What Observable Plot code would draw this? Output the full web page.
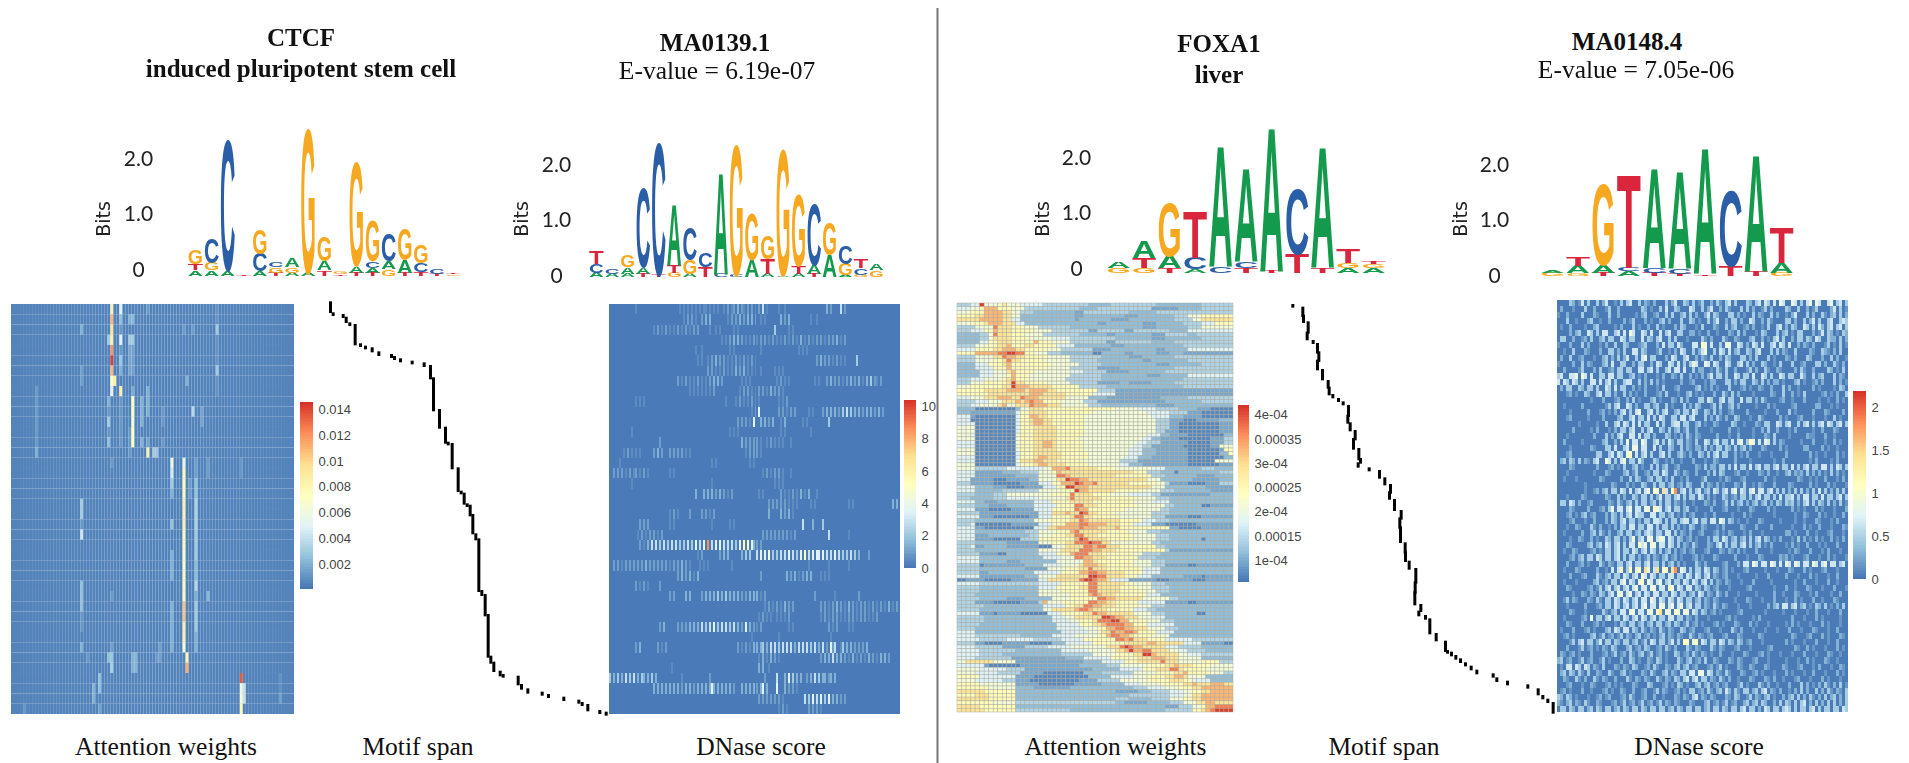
<!DOCTYPE html>
<html><head><meta charset="utf-8">
<script src="https://cdn.jsdelivr.net/npm/d3@7"></script>
<script src="https://cdn.jsdelivr.net/npm/@observablehq/plot@0.6"></script>
<style>
html,body{margin:0;background:#fff}
#stage{position:relative;width:1909px;height:763px;overflow:hidden;background:#fff}
#stage svg{position:absolute;overflow:visible;background:transparent;max-width:none}
.t{position:absolute;transform:translate(-50%,-50%);white-space:nowrap;font-family:"Liberation Serif",serif;font-size:25.5px;color:#111}
.b{font-weight:bold;font-size:25px}
</style></head><body><div id="stage"></div>
<script>
const RAMP = ["#4575b4","#91bfdb","#e0f3f8","#ffffbf","#fee090","#fc8d59","#d73027"];
const LETTER_COLOR = {A:"#149a4c",C:"#2a5ea6",G:"#f6a821",T:"#d9263c"};
const LETTER_W = {A:72.2,C:72.2,G:77.8,T:61.1};

// Sequence logos: each position lists [letter, bits] from the bottom of the stack up
const logoCTCF = [[["A",.1],["T",.12],["G",.26]],[["A",.1],["G",.14],["C",.44]],[["A",.1],["C",2.3]],[["T",.03]],
 [["A",.08],["C",.32],["G",.43]],[["T",.06],["G",.1],["C",.1]],[["A",.06],["G",.1],["A",.17]],[["A",.06],["G",2.55]],
 [["T",.1],["A",.16],["G",.44]],[["T",.03],["G",.04]],[["T",.06],["A",.12],["G",1.85]],[["T",.06],["A",.09],["C",.12],["G",.72]],
 [["G",.12],["A",.14],["C",.48]],[["T",.06],["A",.22],["G",.56]],[["T",.07],["C",.16],["G",.31]],[["T",.04],["C",.09]],[["G",.03],["T",.03]]];
const logoMA0139 = [[["A",.08],["C",.15],["T",.23]],[["A",.06],["C",.1]],[["A",.06],["A",.12],["G",.21]],[["T",.06],["A",.12],["C",1.4]],
 [["T",.04],["C",2.35]],[["G",.08],["T",.13],["A",1.08]],[["A",.06],["G",.25],["C",.57]],[["T",.18],["C",.24]],[["C",.06],["A",1.8]],
 [["C",.04],["G",2.3]],[["A",.3],["G",.84]],[["A",.06],["T",.27],["G",.42]],[["A",.03],["G",2.25]],[["A",.06],["T",.14],["G",1.27]],
 [["T",.06],["A",.15],["C",1.08]],[["A",.4],["G",.58]],[["A",.04],["G",.2],["C",.32]],[["G",.04],["C",.12],["T",.16]],[["G",.12],["A",.12]]];
const logoFOXA1 = [[["G",.09],["A",.11]],[["G",.09],["T",.18],["A",.29]],[["T",.08],["A",.22],["G",.95]],[["A",.06],["C",.2],["T",.82]],
 [["C",.12],["A",2.14]],[["T",.09],["C",.11],["A",1.66]],[["T",.04],["A",2.57]],[["T",.34],["C",1.16]],[["T",.1],["A",2.14]],
 [["A",.09],["G",.09],["T",.24]],[["A",.09],["G",.06],["T",.04]]];
const logoMA0148 = [[["G",.06],["A",.05]],[["G",.05],["A",.13],["T",.17]],[["T",.06],["A",.13],["G",1.42]],[["A",.08],["C",.07],["T",1.66]],
 [["T",.06],["C",.08],["A",1.78]],[["T",.04],["C",.09],["A",1.72]],[["T",.03],["A",2.23]],[["T",.18],["C",1.33]],[["T",.08],["A",2.08]],[["G",.06],["A",.18],["T",.63]]];

// Attention weights, CTCF: background and bright stripes [column, first row, last row, weight]
const ctcfBackground = 0.0005;
const ctcfStripes = [
[33,0,0,.008],[33,1,1,.011],[33,2,2,.0095],[33,3,3,.0085],[33,4,4,.012],[33,5,5,.0142],[33,6,6,.011],[33,7,7,.007],[34,7,7,.0085],[33,8,8,.005],
[32,3,3,.003],[32,9,9,.002],[32,11,11,.003],[32,13,13,.0025],[32,10,10,.0012],[32,12,12,.0012],
[36,0,0,.005],[36,1,1,.0025],[36,2,2,.0012],[36,3,3,.005],[36,4,4,.0012],[36,5,5,.0028],[36,6,6,.002],[36,8,8,.0085],[36,9,13,.0012],
[39,1,1,.002],[40,1,1,.0022],[39,3,3,.003],[40,3,3,.003],[39,4,6,.0016],[40,4,6,.0015],[40,8,8,.0018],
[40,9,13,.0073],[40,11,11,.0065],[39,12,14,.0012],[43,9,11,.002],[43,13,13,.002],[45,8,10,.002],[45,13,13,.0016],[45,14,14,.0085],[47,14,14,.003],[48,14,14,.0028],
[8,8,13,.0013],[8,14,14,.002],[23,2,2,.002],[23,6,7,.0014],[45,0,0,.0013],[68,0,8,.0011],[68,2,2,.003],[68,6,6,.003],[58,7,7,.002],[57,2,2,.0013],[60,2,2,.0014],
[60,10,10,.0036],[63,10,11,.0016],[50,10,11,.0012],[50,13,13,.0012],
[57,15,15,.0055],[57,16,28,.0078],[57,19,21,.0085],[57,24,25,.0072],[57,29,30,.0106],[57,31,32,.0085],[57,33,33,.0065],[58,34,34,.008],[58,35,35,.0112],
[53,15,15,.006],[53,16,16,.0045],[53,17,17,.003],[53,18,18,.002],[53,21,21,.0026],[53,24,26,.002],[53,29,33,.002],
[61,15,16,.0014],[61,17,18,.0026],[61,19,21,.0034],[61,22,24,.003],[61,25,26,.0024],[61,27,27,.0036],[61,28,28,.002],[61,29,31,.003],[61,32,33,.002],
[65,15,16,.0013],[65,28,28,.0022],[59,17,18,.0014],[23,19,20,.003],[23,21,21,.0012],[23,22,22,.0042],[23,27,29,.0025],[23,30,31,.0012],[23,33,33,.002],
[33,15,15,.0012],[33,28,28,.0012],[33,33,33,.0014],[49,33,34,.0014],[32,34,34,.0025],[33,34,34,.0028],[33,35,35,.0032],[40,34,35,.002],[41,34,35,.002],[25,34,34,.0012],[48,34,34,.0012],[76,15,16,.0012],
[76,36,36,.0135],[76,37,37,.006],[76,38,38,.0066],[76,39,39,.0078],[77,37,38,.004],[27,37,38,.002],[29,36,37,.0025],[29,39,39,.0015],[89,36,37,.001],[89,38,38,.0015],[4,39,39,.0012]];

// Attention weights, FOXA1: level per cell (×1e-4), one row per line, as level:run-length
const foxaLevels = [.7,.95,1.15,1.4,1.75,2.1,2.45,2.9,3.3,3.7,4.1];
const foxaRuns = [
"3:3 4:2 a:1 5:4 7:1 5:3 4:5 3:10 2:5 3:10 2:10 3:7","4:3 5:2 6:1 8:3 6:3 5:3 3:12 2:4 3:12 1:6 2:5 3:7","5:3 6:3 8:4 7:2 5:2 3:3 2:9 1:2 3:10 2:6 3:17",
"6:4 7:2 8:4 7:2 5:2 2:12 1:2 2:9 1:3 2:8 3:3 5:3 6:7","7:5 8:5 7:2 4:2 2:12 1:1 2:7 1:4 2:10 3:4 5:2 7:7","5:3 6:3 7:1 8:3 7:3 4:2 2:16 1:2 2:8 1:3 2:6 3:4 4:3 6:4",
"3:4 5:4 9:1 7:3 6:3 5:3 3:7 2:8 2:8 1:3 2:7 3:3 5:7","3:3 4:3 6:2 8:1 7:3 6:5 5:4 3:8 1:2 3:6 1:2 3:8 2:4 4:10","2:5 3:2 5:1 9:1 7:3 6:3 5:4 3:8 2:6 1:2 2:8 1:3 3:5 2:2 3:8",
"2:5 3:2 5:1 7:2 7:2 6:4 5:5 4:4 3:10 2:8 1:3 2:8 3:7","2:5 4:2 6:2 7:3 6:5 8:1 6:3 5:4 3:8 1:2 3:8 2:5 3:13","3:4 5:3 6:2 7:2 8:1 6:3 7:2 6:5 4:4 2:8 1:3 2:7 2:6 3:11",
"4:4 6:4 7:2 8:3 7:2 6:5 5:3 3:7 1:4 2:10 1:2 2:5 4:10","6:4 8:5 9:2 a:2 9:2 6:2 5:3 3:3 2:7 0:2 2:5 1:2 2:5 1:3 2:3 1:13","3:4 5:4 7:2 9:1 8:2 7:2 6:5 5:5 3:7 2:6 1:3 2:7 3:13",
"3:4 5:4 6:2 7:1 9:1 7:2 6:5 5:6 3:6 2:10 1:2 2:8 3:10","2:4 4:3 6:3 7:1 8:1 6:3 6:6 5:6 3:5 2:12 1:3 2:7 3:7","2:4 4:4 6:3 8:1 6:4 6:4 5:5 3:6 1:5 2:12 3:13",
"2:5 4:3 5:3 7:1 8:1 6:4 5:8 4:3 3:5 1:5 2:8 3:15","2:5 4:3 5:3 6:1 8:1 6:3 5:9 3:7 2:10 1:3 2:6 4:10","3:3 4:3 5:4 6:1 7:1 8:1 6:3 5:8 3:8 2:10 2:8 3:11",
"3:3 5:3 6:5 7:1 a:1 7:2 6:5 5:5 3:6 1:5 2:2 1:5 2:5 3:13","5:3 6:2 6:5 7:2 a:1 8:3 7:5 6:6 3:6 2:8 2:9 3:11","6:3 6:3 7:5 8:2 8:2 7:1 8:4 7:2 6:9 3:4 1:25",
"6:3 6:4 7:4 7:3 7:2 8:3 7:5 6:6 4:5 1:26","4:3 5:3 7:3 8:3 7:2 9:1 8:3 7:6 5:5 2:4 1:12 2:6 3:10","3:4 4:3 5:3 7:3 8:1 7:1 8:1 9:1 8:2 6:4 5:5 3:3 1:15 2:8 3:7",
"3:3 4:2 5:4 7:1 8:1 5:2 7:3 9:1 8:3 7:3 5:6 3:3 2:12 1:4 2:13","2:4 0:9 2:1 5:2 7:3 6:10 6:6 5:5 4:4 3:5 2:4 1:3 0:5","2:3 1:10 4:1 6:2 7:4 6:10 5:12 4:5 3:4 1:3 0:7",
"4:3 1:1 0:9 4:1 6:2 8:2 7:2 6:8 5:12 5:3 4:4 2:3 1:4 0:7","4:3 0:10 4:1 6:2 7:1 8:2 7:2 6:7 5:12 5:4 3:3 1:3 0:3 1:5 2:3","4:4 0:9 4:1 6:2 7:1 8:2 7:2 6:7 5:12 5:4 3:3 1:2 0:9 1:2",
"5:4 0:9 4:1 6:3 7:5 6:6 5:13 5:3 3:3 1:2 0:9 1:3","5:4 0:9 4:1 6:3 7:5 6:6 5:14 5:2 3:2 1:3 0:9 1:3","5:3 4:1 0:9 5:1 6:3 7:5 6:6 5:14 4:3 2:2 1:4 0:8 2:2",
"5:4 0:9 5:1 6:3 7:5 6:5 5:14 4:2 2:2 1:4 0:7 1:3 3:2","4:4 0:9 5:1 6:3 7:2 8:2 7:1 6:6 5:12 4:2 3:3 1:6 0:5 1:3 3:2","4:4 0:9 5:1 6:3 7:2 8:2 7:1 6:6 5:11 4:2 3:2 1:7 0:6 1:2 5:3",
"5:4 0:9 5:1 6:3 7:5 6:6 5:10 4:3 2:3 1:7 0:7 1:1 6:2","5:4 0:9 4:1 6:3 7:6 6:6 5:9 4:3 2:3 1:7 0:7 2:2 6:1","4:4 0:9 4:1 6:3 7:1 8:2 7:3 6:6 5:8 4:3 2:3 1:8 0:8 2:2",
"4:4 0:9 5:1 7:3 8:2 7:3 6:6 5:8 3:4 1:2 1:9 0:6 5:3","5:4 0:9 4:1 6:3 7:1 8:2 7:4 6:5 5:7 4:2 2:3 1:10 0:7 1:3","5:4 3:7 4:8 5:2 8:3 9:1 7:6 6:4 5:8 4:3 2:8 3:3 2:6 3:4",
"4:4 1:6 2:4 3:4 5:3 6:1 8:1 7:6 7:10 6:3 3:3 2:3 0:1 2:9 3:3","4:4 1:9 2:5 5:4 9:2 8:1 7:10 6:8 3:3 2:7 1:4 2:4","4:3 1:5 0:3 1:5 2:2 5:4 7:2 a:1 9:2 8:2 7:7 7:6 5:3 2:7 1:6 2:3",
"3:3 1:5 0:6 1:4 4:3 6:2 8:3 a:1 9:1 8:2 9:1 7:7 6:6 5:2 3:1 1:4 0:4 1:3 3:3 0:2","4:4 2:4 1:3 0:4 1:4 4:3 6:2 a:2 8:3 7:6 7:8 5:3 2:9 1:6","4:4 2:6 3:8 5:5 6:3 a:1 8:2 7:6 6:6 5:4 3:3 2:8 1:5",
"3:4 2:4 3:3 5:10 6:4 9:1 7:4 6:4 5:4 4:5 3:2 1:11 2:4","3:3 2:5 3:3 4:7 5:6 7:1 9:1 7:1 7:5 6:8 5:4 3:3 2:14","4:4 2:2 1:3 2:8 4:4 6:4 7:2 7:3 6:9 5:4 4:4 2:13",
"3:4 2:3 1:4 2:6 4:5 6:4 9:2 7:3 6:9 5:6 3:2 2:6 0:2 1:5","4:4 1:3 0:5 1:5 4:4 6:5 9:1 8:2 6:8 5:8 3:2 2:14","3:5 1:13 4:3 7:3 8:1 7:2 a:1 9:1 7:2 6:4 5:8 3:4 2:14",
"4:5 1:3 0:8 1:2 4:3 6:4 7:1 9:2 7:2 6:6 5:7 3:3 1:5 0:3 1:7","3:4 2:13 5:3 6:5 7:2 9:1 8:1 7:2 7:5 6:5 4:3 3:3 2:14","3:3 4:1 0:8 1:6 4:3 6:3 8:3 9:1 9:1 8:4 7:3 6:3 4:4 1:3 0:3 0:4 1:8",
"4:4 1:2 0:11 4:3 7:2 8:5 9:1 8:3 7:4 8:1 6:11 1:2 0:5 1:5","4:4 2:11 3:3 5:4 6:3 8:1 9:1 7:3 7:3 6:5 5:4 3:3 2:16","4:4 1:3 2:9 3:2 5:3 6:3 7:2 9:2 7:3 6:8 5:5 3:3 2:14",
"4:4 1:4 0:6 3:4 6:8 8:1 a:1 9:1 7:4 6:6 5:5 3:3 2:7 0:1 2:6","3:4 2:7 1:7 5:3 6:3 7:2 9:3 a:1 9:2 7:2 5:9 3:2 2:13","3:3 4:1 1:2 2:5 1:7 0:3 5:3 7:4 9:2 8:1 9:2 7:3 6:8 3:2 2:15",
"3:4 2:14 5:5 7:4 9:2 9:1 8:2 7:3 6:11 3:1 1:14","3:5 1:4 0:2 2:7 4:4 6:3 8:1 9:3 7:3 6:7 5:2 3:4 2:16","4:5 2:14 4:4 5:3 9:2 8:2 7:3 6:7 3:4 2:17",
"4:5 2:6 1:3 2:8 5:6 8:2 7:1 6:8 5:4 3:3 2:15","3:5 0:1 1:9 2:4 4:4 5:4 7:1 8:2 8:1 7:2 6:6 5:4 3:3 1:5 0:2 1:8","3:5 2:10 1:5 5:4 6:3 7:2 9:1 7:3 6:8 4:4 2:16",
"3:5 1:2 2:10 4:6 6:4 8:2 9:2 8:2 7:4 6:4 4:4 2:16","4:5 1:10 2:3 5:4 7:7 a:2 9:2 7:4 6:3 4:3 2:7 1:4 0:1 1:7","0:2 1:4 0:6 1:6 4:2 7:7 9:1 a:2 9:1 8:2 7:1 4:4 1:6 0:3 1:5 0:3 1:6",
"4:5 3:13 4:5 6:6 9:2 7:3 7:3 6:2 5:4 3:3 2:15","3:5 2:13 4:4 6:5 7:2 9:2 7:5 6:4 5:3 3:4 2:14","3:5 2:13 5:5 6:6 9:2 7:5 6:5 5:3 3:3 2:14",
"3:4 2:14 5:7 6:4 8:1 9:1 8:1 7:3 6:7 4:3 2:16","3:5 2:6 1:4 2:6 5:4 6:5 6:1 9:2 8:2 7:6 5:6 3:2 2:13","3:4 1:4 0:6 1:4 3:1 8:1 5:3 6:6 9:2 8:2 7:2 6:5 4:6 1:5 0:2 1:8",
"3:6 2:13 4:5 6:2 7:2 9:2 8:2 7:3 6:5 5:3 3:3 2:15","3:5 2:14 5:2 7:5 8:1 9:2 8:1 7:3 6:6 4:3 3:2 2:17","4:5 1:3 0:1 1:5 0:6 4:3 6:5 7:2 9:1 8:2 7:2 7:4 5:4 3:3 2:7 0:2 2:10",
"3:6 2:15 4:3 5:2 7:4 7:2 a:2 9:1 8:2 7:3 5:3 4:3 2:15","3:6 2:15 4:4 5:2 6:3 7:1 9:3 a:2 8:2 6:4 5:3 3:3 2:12","3:5 2:17 4:5 6:3 7:2 8:1 9:4 8:2 6:3 4:6 2:13",
"3:4 2:18 4:6 5:3 6:2 8:2 9:2 8:2 7:3 5:4 3:3 2:12","4:4 2:19 4:6 5:3 7:2 9:1 8:2 9:2 8:1 6:4 4:4 2:13","4:4 3:10 2:7 4:5 5:5 6:2 8:1 9:2 8:2 7:1 6:4 5:4 2:14",
"4:5 3:6 4:6 3:6 4:5 6:7 9:2 8:1 9:1 7:3 6:4 4:6 3:9","3:4 1:2 0:4 1:6 0:5 2:3 4:6 6:7 7:5 8:2 7:6 4:4 1:5 0:3 1:5","4:4 3:6 1:5 3:5 4:5 5:8 7:3 9:1 a:1 9:1 8:2 7:5 4:3 3:5 2:6",
"4:5 3:8 2:10 4:6 5:6 7:2 8:1 a:1 8:2 9:2 7:4 5:2 4:2 3:4 2:7","4:5 3:5 2:13 3:7 5:5 6:4 7:2 a:2 8:1 7:5 5:2 4:3 3:8","4:4 3:8 1:12 2:4 4:6 6:6 7:3 8:2 8:1 7:3 5:5 2:8",
"5:2 7:6 5:5 1:15 2:4 4:5 6:3 7:3 7:2 9:1 7:3 5:5 6:4 3:7","4:6 1:1 0:7 1:13 2:6 3:3 5:6 6:4 7:2 8:1 7:3 6:4 5:5 1:3","5:5 4:6 3:4 1:15 2:6 4:5 6:3 7:3 9:2 7:1 6:5 5:7 2:2",
"5:4 4:5 3:5 1:5 0:9 2:4 3:7 5:5 6:4 7:2 8:1 6:5 5:3 3:7","6:5 4:8 1:4 0:12 2:5 4:5 5:3 6:4 7:2 8:2 7:1 5:4 2:7","5:4 4:6 3:3 1:3 0:11 1:4 3:5 5:6 6:5 7:2 7:1 6:2 4:4 2:5",
"6:5 5:8 1:5 0:8 1:6 2:5 4:4 5:4 6:5 7:2 8:1 7:3 8:3 7:2","6:7 5:6 2:4 1:8 2:14 3:3 4:4 5:3 6:3 7:2 8:3 8:4","7:6 6:7 2:22 1:5 2:3 3:4 4:3 5:2 6:2 7:2 8:5",
"6:4 7:3 6:6 2:25 3:6 3:3 4:3 5:2 7:2 8:7","7:7 6:6 2:22 3:3 2:5 3:4 5:3 6:2 7:2 8:7","6:8 5:5 3:22 2:2 1:5 2:5 3:3 5:3 7:2 8:2 7:4",
"7:5 6:8 2:33 1:3 3:3 5:2 6:1 8:2 9:4","7:6 6:7 3:12 2:21 3:6 6:2 7:1 8:1 9:1 a:4"];

// DNase score, CTCF: for each row, start column and a run of score levels
const dnaseCtcfLevels = {".":.12,"1":.55,"2":.95,"3":1.4,"4":2.1,"5":2.8,"6":3.5,"7":4.5,"8":5.5,"9":8.6};
const dnaseCtcfRows = [
"12:.1 35:1.1.1.1.1.1.11.1.1.1 57:1.2.1 62:2.3.21.2.2.1.2 77:5.1 85:1..1 109:3.2 116:5.2","37:1.2.2.1..2.3.3 59:1.2.2.3.2.3.3.2 76:1.1 86:3.2.3 100:.1..1","22:1.2.1.2.1.1.2.1.2.1.2.2 50:1..1.1 62:1.1 83:4 90:1.1",
"56:1.1.2.3.3.2.1.1.2.1.2.2.1.2.1.1.2.1.2.1.3.1.2.1.2.2.1.2.2.3.1.2","42:.1..1 60:1.1 75:.1 95:1.1.1","44:1.1..1.2.3.2.2.1.1.2.1.2.1.2.1 104:2.3.2.2.1.2.1.1 124:4",
"49:2.2.1.1.2.1.1.3.2.3.1.1.1 76:1 83:1.1.1","34:2.1.2.1.1.2.1.1.2.3.3.2 66:1.1.1 84:1.2.1.1 103:1.1 109:2.3.2.2.1.2.3.2.3.1.3.4.2 134:1.2","40:1.1.1.1.1.1.2 65:1.2.2.1.1.2.2.1.3.2.2.1",
"12:.1.1.1 58:1 63:1.2.1.1.2.1.1 85:1.1.2","71:1.2.6 85:2.2.1.2.2 100:1.1 107:2.3.3.3.2.4.5.4.3.3.2.3.3.2.3.2","64:2.2.2.1 72:6 76:3.3.2.3 86:1.3 96:.1.1 110:4",
"10:.1 60:1.1.1 85:.1.1 100:.1","25:2 66:3.2.2.2.2.1 78:.1.2.1.1.1 90:.1","7:1.2.1.1.1 22:2.3.2 30:2.2.2.2.1.1 67:.1.2.2.2.1",
"4:.1 50:.1.1 70:1.1","2:2.2.2.1.2.1 13:2.1.2.1 30:1.1 77:1.2.1.2.2.1 90:.1","10:.1 50:.1 82:.1.1.1",
"43:3 47:3.3.3.2.3.2.1.2 75:1.1 86:2.1.1.2.1.3.1.2 100:3 103:.1","80:2.2.2.2.2.1.1.1 100:.1.1 120:1.1 142:3.3","30:1.2.1 40:2 46:2.2.1.2 80:3 86:3.2.3.1",
"15:2.2.2 30:1.1 50:.1 97:5 102:3 107:4 60:1.1","14:1.2.1 20:2.2.1.2 77:2.2.2.2.2.2.2.1.2 110:5 120:1","15:2.1.3.5.5.4.5.4.5.5.4.4.5.4.6.5.6.9.5.6.6.5.5.5.4.6.6.5.6.7 67:8.8 72:3.2 76:2",
"44:1.2 55:2.3.3 66:3.4.4 74:5.6.6.5.4 80:7.4 84:4.5.5.6.5.4.6.8.5.6.6.7.6.5.6.5 105:6.6.5.5.6.5.4.4.5.4.4 124:.3 130:2","2:2.2.1.2.2.2.2.2.3.2.2.2.2.2.1.2.2.3.2.1 45:1.1.1 60:.1 100:1 110:1 120:1","34:2.3.2.3.1.3 76:2 89:3.2.3.1.2.3.3 105:.1.1.1",
"13:2.1.2.1 25:2","30:2.2 38:3.3 46:2.3 50:3.3.4.3.4.3.3.3.2.2.3.3.3 75:.1.2 103:2 113:1 125:2","78:1.2.1.2.1.3.1.2 90:2.2 106:2.2.1.2.3.2.1.3.2.1.2.2.1.2.1.2.1.3.1.2",
"75:1.2.1.1 84:1.1.1.2 106:1.2.1.2.2.1.1.2.2.1.2.2.1.1.2","25:2.3 34:2.2.2.3.3.3.5.4.5.6.4.5.5.4.5.3 64:3.2.6.3.2.2.2 74:1 90:1.1 110:2.1.2 120:1.1","70:.1 84:.1 110:.1",
"13:2.3 24:2.1.2 64:2.1.2.1 72:3.3.3 77:4.3.5.5.4.5.5.5.3.5.5.5.4.5.5.5.5.3.5.3.4.3.3.2.2.2.3 105:3.5.2.6 112:2 115:.1","75:1.3.1.3.2.1 106:2.3.3.5.3.3.2.1.3.1.2 126:2.1.3.2.1.3.3.2","75:3.3 80:1 30:.1",
"0:4.3.4.3.5.4.5.3.4.6.3.3 17:3.3.4.3 36:1 50:2 78:2 84:5 88:3.6.4.3.3 99:2.3.5.4.3.3.3.3 108:3.2","22:3.3.3.3.3.3.3.2.3.3.3.3.3.2.3.3.3.3.3.2 42:2.3.3.3 51:6 56:3.3.3.2 66:3.3.3.3.2.3.5 77:6.3 84:6 88:3.2.2.1","75:2.2.2.2.2.2.1 98:5.4.6.5.6.4.6.3.3.2.2","84:.1.2.1 100:2.2.2.1"];

// DNase score, FOXA1: one line per row, one level per column; the right-hand columns continue in dnaseFoxaRight
const dnaseFoxaLevels = {".":.03,"1":.17,"2":.3,"3":.46,"4":.64,"5":.88,"6":1.1,"7":1.45,"8":1.8,"9":2};
const dnaseFoxaRows = [
"....32.14.3..3.24..1.3.34..3.21.2...3.24..32.3.13..2.31.34.3...32.34.43.4.54..54.3.45.54..45.34.3",
".2...1...3..2...13..2.......32.1..3.4..32...43..3.24..2.31...3.3.2..13.2....32..3..2.13...",
"1..2....3...21...3..2.....1.23..12..3.3..23.3.2..24.32...33.2.1..3.21..3.2..1.24...3.2..31",
"...3..1...23..1..2....2.13...2.1..23.2...3..32.1..3.24..2.33.2..43..2.31....33.2..3.24.3..34..34",
".1..2....1..23.....1.2...3.1..2..3.1...2.32...1.3...21..3.23..12.2..1.3..34.2.32..43.3.42.34.",
"....2.23..43.3.44..34.4.54..43.4..4.34..33..22.1..2..1...21.3.2...1.32...3.23.1.33...2.14.3",
".33..2..12.3..23.33..43.33..4.32.34..3.3...1....31.2...31..21...23..2.1.34.3..2.33.32.43..32",
"1...2...3.2...1.2..3..32...123...2.4.33.42...44.65.4..3.55..43.2.43.4..34.43.4..2.21.2...13",
"..1..3...21...2..33.2.3..44.32...13..1.2.43..3.245..3.43.4.23..32.34...3.3.21..3....21..32",
".2..3..12...1..23.2.3.24..3.45.33...2.43..34..2.21.3..2.32...33.2.3...3.1...21.2...32...2",
"1....2..3.21...23.4..33..2.33..2.43..43.4.3.354..54.43..43..34.3.2..32..1.3...3..12...3",
"..2....13...2.3..12.33.33..44.34.3..34.44.4..3.22..1.31.3..2...13.2..31..21....2.31..2....3",
"34..445.54.4..33.44.33..23.1.2...1.2..21.3..2.1.2.24.33.3..43.33.4..43.3..43.33..42..3.23.",
"4.43.43.3..44.4.34.3..344..3.2.3.2.1.....2..12...1.22...33.2.33..32.3.2.22.1...23.1..12.2..",
".2.33..32.33.3..43.4.33..2.1.2...1.3...12.....23.1.2.1...3...12.1..21..2...3.2..1....2.1..",
"...12.1..32..34.33.2..3.2.1..2...12.3...1..23.1.1...2..31.3.2....1.....21..3..2.1.3.....1",
"...........1...2...12..2.3.1...23.1...21.3.2...33.43..34.33..4.33.2.31....12..1...2....1",
"..1.....2.......13.34..43.2..33.23..3.1...3.2.32...13.3..23.2.....1...2.1.....12......2",
"....1.....2...12.1.2.34.3.45..34.3.34..23.33.43..32.3.2..12....2.....1...2...3.1.....2",
"...12.....1....2....23..34.33.4.3.43..33.44.34...3.2.31.2..32...1..31.....2.1...12...1",
".......1.....1..3..34.43.4.4.33..4.3..344.33..23.1..21....32..1...21.33..43.34..3.34.3",
".....2.....1.2...1.2.33.34..3.34..32.3.23.13..2....1.....2..1....1..2.3..2...1.2.....",
"...1........2...3.2.34..44.4.33.2...32.1.2.31.21.....2...1..2....1...21.3....1.....21",
"..2.....1......23..2.3.5.44.54..34.3.42.33.21.3..43.34.33.4.45.365.4.54.3.21.....",
"....1......21...33.4..34.55.44..4.3..32..3.21.22.3.2.33.32.3.23.2...21....2.1.....2",
"...12........33..34.43.56.4.34.3..34.3..231.2..32.3.34.33..2.1.2...1...1....2.....",
".23.32.3.21.34..54.3.45.33.42...32..1.2..1...2...1..21.....2....1.......1..2......",
"....21.......2...12.1.3..23.1..3.3.23..12.....21.3.22.33.3.4.33.4.34.33.34.33.4.3",
"...1........1...21....23.13..12.33.43..31.21..2...2.3.32...12..1...21.2..1..23.21",
"..1...1.......21.....2..3.32..23.33.2.3..1.2....13....1.21...12......2..1.......21",
".........1........21...2.1..32..3.33.23.12.32...3.21.2.1...21.3..1.21...2....21...",
".........1..12.23.33.43.4.34.45.65.74.68.34.3.34.23.43.34.45.43.45.44.34.3.3",
"...1....21......21..3.2..32.33.3.24.33.34.3.33.43.2.1..32.12.33.3.34.33.3.4.33",
".33.43.2..12.....21.31.23.3.33.23.3.33.21.2..1...21.2..13.3.23.2.23.23.2.32.3",
"....21....2...12.35.44.45.44.55.654.34.33.23..1....2...12...1...21....2.1.....2",
"...12.1.23.12...2.32.3.34.433..44.33.23.1.2.12...1..2.....1...2.1.......1.....",
"....12...1..2...2.32.34.33.2.33.443.3.33.344.34.33.44.54.32.1..1...21.....1....",
"...1..21...31.2..1.2.33.44.33.44.3.33.3.2.1.32..21...1.2.....21...2....2....",
"..1.....2..23.31.2..23.33.23.343.33.44.3.21.2..12...12.1.21...1.2...1.......2",
"....1..21..2.1..32.33.2.35.34.55.455.43.32.12.1...2.33.43.23.23.3.34.32.1.2...",
"...21.....23.23.43.34.3.44.645.55.44.43.3.21.31...21.34.3.33.34.3.23.1.2...",
"..1..21....12.1.33.34.33.43.34.43.3.23.2.12.12...12...21.21.2.1...2....1....",
"....12.23.33.43.33.34.3.33.2.13.21.23.12.1...12.1...21.....2...1...21.....21",
"...2...12.1...31.21.33.34.33.34.33.3.23.2.1...31.2.....12...2.44.54.44.54.",
"..1...21.....2..1.4.46.36.56.75.47.65.78.54.3.33.43.32.12.1...12.....1...1...2",
"....2...12...31.23.33.43.34.54.43.33.44.33.43.43.34.21.12...1.....1...2.....",
"..1...1.....23.12.33.45.43.56.54.45.34.33.43.43.34.3.21.21...1...2.....1.....",
"...21.....12.13.34.34.34.45.44.55.44.65.43.44.32.32.12...1.....12.......1..",
".....1..21.21.32.34.55.45.34.43.44.33.43.33.23.43.21.31.2...1.....1.....2..",
"..13.21...21.31.33.43.43.34.44.54.43.43.43.33.23.21.21.....1...21...1...2",
"...1.....2...12.33.43.34.34.45.44.55.45.45.34.33.21.31.21...1...1.....2.23.4",
"....21...1.....31.23.44.55.44.55.67.55.65.55.43.32.12.1.....12.......1.....1",
"..1.....12.5.33.34.33.43.34.43.34.33.44.33.21.2...1.....12.1.....1.2.......",
"...21...2...12.1...1.32.33.23.23.33.23.32.13.12.1...12.1...21...2.1...1.....1",
".1...2...12.1...23.43.44.32.31.21.31.21..32.12...12...1...31.2...1...1...1",
"..12.1.....23.13.12.13.21.23.12.1.23.21.21..31.21.12...12...21.....21.......",
"....13.34.33.24.33.32.33.23.13.43.33.24.3.66.56.43.33.43.32.32.12...1....",
"...2...13.12.1.21.32...23.12.32..12.31.2...31.21...31.21...12...1.....12.....",
".21.12.1...2...12.13.12.31.23.13.12.1..32.12.31.21.1..2...1...21...12.1...1..",
"23.12..13.12..13.1...2..32.1..21.32.1...31.23.12.3..21...21.21...12...1.....1",
".1.44.43.43.21.3...21.21.32..12.31..21.23.23.12...12.13.1...21..21...21...",
".23.32.31.3..21..31..23.1...21.31..23.21.33.44.55.43.21.31...21..12.1...1.",
"..21..31.2..31.21..2...31.21.21..31.21.32.34.34.33.21.31.2..1...21...21.2..",
"...12...1..21...12.1.1...21...32...12.1.32.1..23.23.12.12...13.1...31.2..1...2.",
".12.1...2..1...12.1..21..2..12..13.21..12.1.33.12.31.23.42.31.33.23.34.21.2.",
"32.32.1...1..12.12...12.31..12..2..1...21.21.34.21.21...21.32..13.21.23.1..",
"21.23.21.31..21...12.13.12.13.12.13.21.21...21...23.12.13.12..23.23.32.",
".33.32.33.23.32.33.23.32.33.32.33.33.23.32.33.33.23.33.32.33.34.33.2.43.33.3"];
const dnaseFoxaRight = [
"3.44.34.43.54.34.43.45.34","2.31..43.2.33.2..3.24.3.1","3.2..21.3...32.2.1.23.3.2","3.2.31..2.43.3.2.3.34.2.3","2.3.21.3.1..32.3.2.1.34.3","1..32.2.1.43.2.13..2.1.32",
"..32.1.3.2..31.2.33.2.3.2",".2.13.2..3.21.3.2.2.1.3.1","2..31.2.3.2..1.32.1.2.3..","3.2.1..32..2.31.2..3.2..1","1..2.3.1..21.2.3.2..31.2.","2.1.3..21.3.2.1..3.2.1.3.",
".33.2.1.32.2.3.3.2..3.21.","2.2.31..21.3..23..1.3.2.1","2.1..3.2..21.1.2.3..1.32.","..2.1.1..3.2.1...2.1.2..3","1..2...1.2...21...1..2.1.","2.1...12...3.1.2...1.1...",
"1...2..1.2...1...21....2.",".2.1...21..1.2...1..3.1..","33.44.34.33.44.34.43.34.3","..2.1...1.2..1..2...21...","2.1...12...1.1...2..1....","...2..1.21...2...1..2.1..",
"1.2...1...12....2.1..1...","2..1...12...2.1..1...2.1.","..1...2.1...1.2....1.2...",".34.33.43.34.33.44.3.43.3",".21.2.1.32.3.2.2.1.3.2.1.","1...21..2...1.1..2...1.2.","2..1...21...2.1...2.1...1",".3.3.2.3.3.2.3.4.3.2.3.3.",
"3.33.34.3.44.33.4.33.34.3","3.33.23.2.34.3.32.3.2.3.1",".1..2...1.1...2.1...1...2","1..2...1..21...2.1..1..2.",".1...2.1..1...21...1.2...","..21..1...2.1..2...1...21","..1..2.1...2..1...12...1.",
"2.1.2.1.3.2.1.2.1..2.1.2.","2...1.2.1..2...1.1...2...",".2...1.21...2...1.2...1..","1...2.1...12...1..2.1...1",".44.54.54.44.54.45.44.34.","..1...1...2.1...12...1...",".1..2...1...2.1...1..2...",
"..21...1..2...1...2..1...","1...2..1...21...1...2...1","...1...21...1.2....1..2..","2...1..2.1...2..1...21...",".23.4.34.23.1.32.3.1.2.3.","..21...1...1..2...1...2..","..1...2...1...2.1.....1..",
"...1..2.1...1...2.1...1..",".1...2...1...21...1..2...","2.1...21...12...2.1...21.","1...2.1...1...2...1..2...","2..1...21..2.1...1...2.1.","1...2.1...2...1...21..1..",
"...21...1..2.1...21..1...","1..21...12...1.2...1..21.",".1..2.1...1..2...1...2.1.","2..1...12...1...2.1...1..",".21.2.1..3.2.1.2.31.2.3.1","1.32.1.2.3.2..3.2.31.21.3",".3.2.23.3.2.31.2.3.23.2.3","2.3.32.3.34.2.3.2.3.3.2.3",".33.43.3.33.34.3.33.33.43"];

// Motif span: [position, first rank, last rank] read from each black run
const spanCTCF = [[60,22,48],[68,55,57],[98,60,63],[107,68,78],[118,85,87],[134,90,145],[150,148,150],[165,155,157],[185,160,166],[205,172,177],[243,180,183],[252,186,189],[270,193,196],[305,200,202],[341,205,210],[360,213,247],[369,250,343],[387,345,395],[405,398,440],[413,443,445],[425,447,517],[443,520,585],[452,590,592],[461,596,623],[470,628,630],[479,632,658],[487,660,712],[496,718,730],[505,733,885],[514,888,897],[524,900,958],[533,960,1082],[541,1085,1100],[550,1103,1125],[569,1130,1138],[578,1140,1142],[623,1145,1165],[633,1170,1178],[652,1183,1190],[695,1193,1196],[714,1200,1203],[760,1208,1212],[805,1217,1220],[815,1224,1227],[832,1230,1243],[868,1248,1251],[887,1253,1256]];
const spanFOXA1 = [[67,30,32],[97,38,60],[99,62,78],[113,82,110],[110,113,130],[128,138,141],[141,147,170],[145,172,195],[141,197,220],[156,225,250],[173,258,275],[176,278,295],[187,300,304],[204,312,315],[218,322,325],[234,333,360],[232,362,380],[239,385,403],[254,408,430],[249,432,458],[265,462,490],[270,492,500],[263,505,512],[296,520,523],[327,528,545],[343,550,565],[360,570,590],[357,592,608],[372,615,642],[392,648,668],[388,670,695],[390,697,738],[404,745,770],[405,772,795],[416,800,818],[436,822,860],[434,862,890],[433,892,925],[451,930,945],[445,950,958],[465,963,968],[478,973,1012],[497,1017,1033],[525,1040,1065],[531,1068,1070],[543,1073,1078],[556,1083,1088],[570,1093,1098],[585,1105,1108],[602,1115,1120],[619,1127,1132],[668,1138,1142],[679,1150,1155],[711,1160,1165],[772,1171,1175],[803,1183,1195],[817,1203,1207],[832,1214,1218],[848,1224,1250]];

// Colour bars
const barCTCF = {domain:[.00005,.0146],ticks:[.014,.012,.01,.008,.006,.004,.002],labels:["0.014","0.012","0.01","0.008","0.006","0.004","0.002"]};
const barDnaseCTCF = {domain:[0,10.4],ticks:[10,8,6,4,2,0],labels:["10","8","6","4","2","0"]};
const barFOXA = {domain:[.000055,.00042],ticks:[.0004,.00035,.0003,.00025,.0002,.00015,.0001],labels:["4e-04","0.00035","3e-04","0.00025","2e-04","0.00015","1e-04"]};
const barDnaseFOXA = {domain:[0,2.19],ticks:[2,1.5,1,.5,0],labels:["2","1.5","1","0.5","0"]};

const stage = document.getElementById("stage");
const put = (el,l,t) => {el.style.left=l+"px";el.style.top=t+"px";stage.appendChild(el);return el;};
const stops = d => d3.range(7).map(i => d[0]+(d[1]-d[0])*i/6);

function heat(cells,nc,nr,dom,l,t,w,h,opt={}){
  const p = Plot.plot({width:w,height:h,margin:0,
    x:{type:"band",domain:d3.range(nc),axis:null,padding:0,round:false},
    y:{type:"band",domain:d3.range(nr),axis:null,padding:0,round:false},
    color:{type:"linear",domain:stops(dom),range:RAMP,clamp:true},
    marks:[Plot.cell(cells,{x:"c",y:"r",fill:"v",...opt.mark})]});
  p.style.filter=`blur(${opt.blur??.6}px)`;
  put(p,l,t);
}
function colorbar(b,l,t,w,h){
  const n=120, steps=d3.range(n).map(i=>({a:b.domain[0]+(b.domain[1]-b.domain[0])*i/n,b:b.domain[0]+(b.domain[1]-b.domain[0])*(i+1)/n}));
  const p=Plot.plot({width:w+70,height:h,marginTop:0,marginBottom:0,marginLeft:0,marginRight:70,
    x:{domain:[0,1],axis:null},y:{domain:b.domain},
    color:{type:"linear",domain:stops(b.domain),range:RAMP},
    marks:[Plot.rect(steps,{x1:0,x2:1,y1:"a",y2:"b",fill:d=>(d.a+d.b)/2,shapeRendering:"crispEdges"}),
      Plot.axisY({anchor:"right",ticks:b.ticks,tickSize:0,tickPadding:5,label:null,fontSize:13,fontFamily:"Liberation Sans",fill:"#444",
        tickFormat:d=>b.labels[b.ticks.indexOf(d)]})]});
  put(p,l,t);
}
function span(runs,l){
  put(Plot.plot({width:300,height:430,margin:0,x:{domain:[0,900],axis:null},y:{domain:[0,1290],reverse:true,axis:null},
    marks:[Plot.link(runs,{x1:d=>d[0],x2:d=>d[0],y1:d=>d[1],y2:d=>d[2],stroke:"#000",strokeWidth:3,strokeLinecap:"square"})]}),l,295);
}
function logo(stacks,{x0,dx,zeroY,base,labelX,bitsX}){
  const U=55.5, top=zeroY-2.8*U, H=3.1*U, left=bitsX-15, n=stacks.length, letters=[];
  stacks.forEach((s,i)=>{let b=base; for(const [l,h] of s){letters.push({p:i+1,l,h,y0:b}); b+=h;}});
  const W=x0+(n+1)*dx-left;
  const p=Plot.plot({width:W,height:H,margin:0,
    x:{domain:[0,n+1],range:[x0-dx-left,x0+n*dx-left],axis:null},
    y:{domain:[-.3,2.8],range:[H,0],axis:null},
    marks:[
      Plot.text(letters,{x:"p",y:"y0",text:"l",fill:d=>LETTER_COLOR[d.l],fontSize:100,fontWeight:"bold",fontFamily:"Liberation Sans",lineAnchor:"bottom",textAnchor:"middle"}),
      Plot.axisY({anchor:"left",ticks:[0,1,2],tickFormat:d=>d?d.toFixed(1):"0",tickSize:0,tickPadding:0,textAnchor:"middle",dx:labelX-left,label:null,fontSize:21,fontFamily:"Lato",fill:"#222"}),
      Plot.text(["Bits"],{y:()=>(zeroY-218)/U,frameAnchor:"left",dx:bitsX-left,rotate:-90,textAnchor:"middle",fontSize:19,fontFamily:"DejaVu Sans",fill:"#222"})
    ]});
  const glyphs=[...p.querySelectorAll("text")].filter(t=>t.textContent.length===1&&LETTER_W[t.textContent]);
  glyphs.forEach((t,i)=>{
    const d=letters[i];
    t.setAttribute("transform",(t.getAttribute("transform")||"")+` scale(${dx*.95/LETTER_W[d.l]},${d.h*U/69})`);
  });
  p.style.filter="blur(.4px)";
  put(p,left,top);
}

// panels
const cellsCTCF=[]; {const g=d3.range(40).map(()=>new Array(94).fill(ctcfBackground));
  for(const [c,a,b,v] of ctcfStripes) for(let r=a;r<=b;r++) g[r][c]=v;
  g.forEach((row,r)=>row.forEach((v,c)=>cellsCTCF.push({r,c,v})));}
const cellsFOXA=[]; foxaRuns.forEach((s,r)=>{let c=0,last=0; for(const tk of s.split(" ")){const [l,n]=tk.split(":"); last=foxaLevels[parseInt(l,16)]*1e-4;
  for(let i=0;i<+n&&c<61;i++) cellsFOXA.push({r,c:c++,v:last});} while(c<61) cellsFOXA.push({r,c:c++,v:last});});
const cellsDC=[]; dnaseCtcfRows.forEach((s,r)=>{const row=new Array(146).fill(.12);
  for(const tk of s.split(" ")){const [st,pat]=tk.split(":"); [...pat].forEach((ch,i)=>{const c=+st+i; if(c<146) row[c]=dnaseCtcfLevels[ch];});}
  row.forEach((v,c)=>cellsDC.push({r,c,v}));});
const cellsDF=[]; dnaseFoxaRows.forEach((s,r)=>{for(let c=0;c<97;c++){const ch=s[c]??dnaseFoxaRight[r][c-72]??".";cellsDF.push({r,c,v:dnaseFoxaLevels[ch]});}});

heat(cellsCTCF,94,40,barCTCF.domain,11,304,283,410,{mark:{stroke:"#8fa8c8",strokeWidth:.3,strokeOpacity:.22},blur:.5});
heat(cellsDC,146,40,barDnaseCTCF.domain,609,304,291,410,{mark:{shapeRendering:"crispEdges"}});
heat(cellsFOXA,61,110,barFOXA.domain,957,303,276,409,{mark:{stroke:"#a8a89c",strokeWidth:.45},blur:.3});
heat(cellsDF,97,68,barDnaseFOXA.domain,1557,300,291,412,{mark:{shapeRendering:"crispEdges"},blur:.5});

colorbar(barCTCF,300,402,13,187);
colorbar(barDnaseCTCF,904,400,12,168);
colorbar(barFOXA,1238,405,11,177);
colorbar(barDnaseFOXA,1853,391,13,188);

span(spanCTCF,310); span(spanFOXA1,1270);

logo(logoCTCF,{x0:195,dx:16.1,zeroY:269,base:-.108,labelX:138,bitsX:103});
logo(logoMA0139,{x0:596,dx:15.55,zeroY:275,base:-.02,labelX:556,bitsX:521});
logo(logoFOXA1,{x0:1118,dx:25.5,zeroY:268,base:-.07,labelX:1076,bitsX:1042});
logo(logoMA0148,{x0:1552,dx:25.45,zeroY:275,base:0,labelX:1494,bitsX:1460});

// divider
const rule=Plot.plot({width:4,height:755,margin:0,x:{domain:[0,1],axis:null},y:{domain:[0,1],axis:null},marks:[Plot.ruleX([.5],{stroke:"#777",strokeWidth:2})]});
put(rule,935,8);

// texts
const txt=(s,x,y,b)=>{const d=document.createElement("div");d.className="t"+(b?" b":"");d.textContent=s;put(d,x,y);};
txt("CTCF",301,38,1);txt("induced pluripotent stem cell",301,69,1);
txt("MA0139.1",715,43,1);txt("E-value = 6.19e-07",717,71);
txt("FOXA1",1219,44,1);txt("liver",1219,75,1);
txt("MA0148.4",1627,42,1);txt("E-value = 7.05e-06",1636,70);
txt("Attention weights",166,747);txt("Motif span",418,747);txt("DNase score",761,747);
txt("Attention weights",1115.5,747);txt("Motif span",1384,747);txt("DNase score",1699,747);
</script></body></html>
